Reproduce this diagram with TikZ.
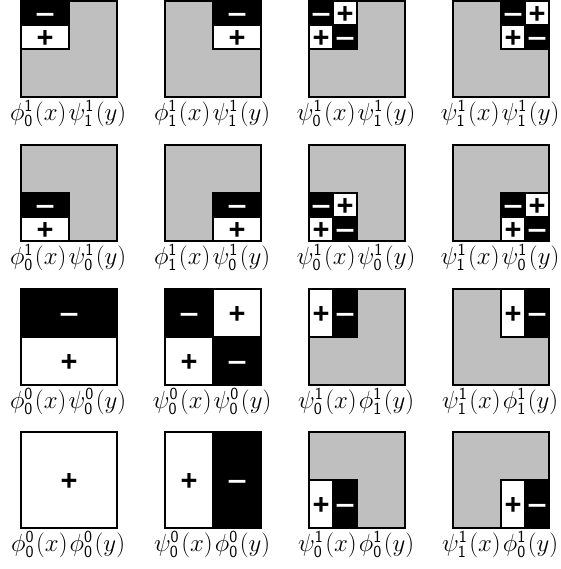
\documentclass[tikz,border=0pt]{standalone}
\usepackage{fontspec}
\usepackage{tikz}
\usetikzlibrary{calc}
\newfontfamily\signfont{Liberation Sans}
\DeclareMathSizes{24}{24}{17}{12}
\tikzset{
  zeroarea/.style={fill=black!25,draw=black,line width=1.2pt},
  posarea/.style={fill=white,draw=black,line width=1.2pt},
  negarea/.style={fill=black,draw=black,line width=1.2pt},
  possign/.style={font=\signfont\bfseries\fontsize{29}{29}\selectfont,text=black,
    inner sep=0pt,anchor=base,yshift=-10.2pt},
  negsign/.style={font=\signfont\bfseries\fontsize{29}{29}\selectfont,text=white,
    inner sep=0pt,anchor=base,yshift=-10.2pt},
  basisframe/.style={draw=black,line width=2.2pt},
  basislabel/.style={font=\fontsize{24}{28}\selectfont,inner sep=0pt}
}
\newcounter{signno}
% one cell of a basis function: corners, then sign
\newcommand{\poscell}[4]{%
  \draw[posarea] (#1,#2) rectangle (#3,#4);
  \stepcounter{signno}%
  \node[possign] (sign\arabic{signno}) at ($(#1,#2)!0.5!(#3,#4)$) {+};}
\newcommand{\negcell}[4]{%
  \draw[negarea] (#1,#2) rectangle (#3,#4);
  \stepcounter{signno}%
  \node[negsign] (sign\arabic{signno}) at ($(#1,#2)!0.5!(#3,#4)$) {\scalebox{1.15}[0.9]{−}};}
% basis function with level and shift
\newcommand{\bfn}[3]{\mkern1.5mu#1^{\mathsf{#2}}_{\mathsf{#3}}\mkern1.5mu}

\begin{document}
\begin{tikzpicture}[x=1pt,y=-1pt]
  \useasboundingbox (0,0) rectangle (560,569);

  % row 1
  \begin{scope}[shift={(21,97)},x=96pt,y=96pt]
    \fill[black!25] (0,0) rectangle (1,1);
    \poscell{0}{0.5}{0.5}{0.75} \negcell{0}{0.75}{0.5}{1}
    \draw[basisframe] (0,0) rectangle (1,1);
    \node[basislabel] (lab11) at (0.48,-0.17) {$\bfn{\phi}{1}{0}(x)\bfn{\psi}{1}{1}(y)$};
  \end{scope}
  \begin{scope}[shift={(165,97)},x=96pt,y=96pt]
    \fill[black!25] (0,0) rectangle (1,1);
    \poscell{0.5}{0.5}{1}{0.75} \negcell{0.5}{0.75}{1}{1}
    \draw[basisframe] (0,0) rectangle (1,1);
    \node[basislabel] (lab12) at (0.48,-0.17) {$\bfn{\phi}{1}{1}(x)\bfn{\psi}{1}{1}(y)$};
  \end{scope}
  \begin{scope}[shift={(309,97)},x=96pt,y=96pt]
    \fill[black!25] (0,0) rectangle (1,1);
    \poscell{0}{0.5}{0.25}{0.75} \negcell{0.25}{0.5}{0.5}{0.75}
    \negcell{0}{0.75}{0.25}{1} \poscell{0.25}{0.75}{0.5}{1}
    \draw[basisframe] (0,0) rectangle (1,1);
    \node[basislabel] (lab13) at (0.48,-0.17) {$\bfn{\psi}{1}{0}(x)\bfn{\psi}{1}{1}(y)$};
  \end{scope}
  \begin{scope}[shift={(453,97)},x=96pt,y=96pt]
    \fill[black!25] (0,0) rectangle (1,1);
    \poscell{0.5}{0.5}{0.75}{0.75} \negcell{0.75}{0.5}{1}{0.75}
    \negcell{0.5}{0.75}{0.75}{1} \poscell{0.75}{0.75}{1}{1}
    \draw[basisframe] (0,0) rectangle (1,1);
    \node[basislabel] (lab14) at (0.48,-0.17) {$\bfn{\psi}{1}{1}(x)\bfn{\psi}{1}{1}(y)$};
  \end{scope}

  % row 2
  \begin{scope}[shift={(21,241)},x=96pt,y=96pt]
    \fill[black!25] (0,0) rectangle (1,1);
    \poscell{0}{0}{0.5}{0.25} \negcell{0}{0.25}{0.5}{0.5}
    \draw[basisframe] (0,0) rectangle (1,1);
    \node[basislabel] (lab21) at (0.48,-0.17) {$\bfn{\phi}{1}{0}(x)\bfn{\psi}{1}{0}(y)$};
  \end{scope}
  \begin{scope}[shift={(165,241)},x=96pt,y=96pt]
    \fill[black!25] (0,0) rectangle (1,1);
    \poscell{0.5}{0}{1}{0.25} \negcell{0.5}{0.25}{1}{0.5}
    \draw[basisframe] (0,0) rectangle (1,1);
    \node[basislabel] (lab22) at (0.48,-0.17) {$\bfn{\phi}{1}{1}(x)\bfn{\psi}{1}{0}(y)$};
  \end{scope}
  \begin{scope}[shift={(309,241)},x=96pt,y=96pt]
    \fill[black!25] (0,0) rectangle (1,1);
    \poscell{0}{0}{0.25}{0.25} \negcell{0.25}{0}{0.5}{0.25}
    \negcell{0}{0.25}{0.25}{0.5} \poscell{0.25}{0.25}{0.5}{0.5}
    \draw[basisframe] (0,0) rectangle (1,1);
    \node[basislabel] (lab23) at (0.48,-0.17) {$\bfn{\psi}{1}{0}(x)\bfn{\psi}{1}{0}(y)$};
  \end{scope}
  \begin{scope}[shift={(453,241)},x=96pt,y=96pt]
    \fill[black!25] (0,0) rectangle (1,1);
    \poscell{0.5}{0}{0.75}{0.25} \negcell{0.75}{0}{1}{0.25}
    \negcell{0.5}{0.25}{0.75}{0.5} \poscell{0.75}{0.25}{1}{0.5}
    \draw[basisframe] (0,0) rectangle (1,1);
    \node[basislabel] (lab24) at (0.48,-0.17) {$\bfn{\psi}{1}{1}(x)\bfn{\psi}{1}{0}(y)$};
  \end{scope}

  % row 3
  \begin{scope}[shift={(21,385)},x=96pt,y=96pt]
    \poscell{0}{0}{1}{0.5} \negcell{0}{0.5}{1}{1}
    \draw[basisframe] (0,0) rectangle (1,1);
    \node[basislabel] (lab31) at (0.48,-0.17) {$\bfn{\phi}{0}{0}(x)\bfn{\psi}{0}{0}(y)$};
  \end{scope}
  \begin{scope}[shift={(165,385)},x=96pt,y=96pt]
    \poscell{0}{0}{0.5}{0.5} \negcell{0.5}{0}{1}{0.5}
    \negcell{0}{0.5}{0.5}{1} \poscell{0.5}{0.5}{1}{1}
    \draw[basisframe] (0,0) rectangle (1,1);
    \node[basislabel] (lab32) at (0.48,-0.17) {$\bfn{\psi}{0}{0}(x)\bfn{\psi}{0}{0}(y)$};
  \end{scope}
  \begin{scope}[shift={(309,385)},x=96pt,y=96pt]
    \fill[black!25] (0,0) rectangle (1,1);
    \poscell{0}{0.5}{0.25}{1} \negcell{0.25}{0.5}{0.5}{1}
    \draw[basisframe] (0,0) rectangle (1,1);
    \node[basislabel] (lab33) at (0.48,-0.17) {$\bfn{\psi}{1}{0}(x)\bfn{\phi}{1}{1}(y)$};
  \end{scope}
  \begin{scope}[shift={(453,385)},x=96pt,y=96pt]
    \fill[black!25] (0,0) rectangle (1,1);
    \poscell{0.5}{0.5}{0.75}{1} \negcell{0.75}{0.5}{1}{1}
    \draw[basisframe] (0,0) rectangle (1,1);
    \node[basislabel] (lab34) at (0.48,-0.17) {$\bfn{\psi}{1}{1}(x)\bfn{\phi}{1}{1}(y)$};
  \end{scope}

  % row 4
  \begin{scope}[shift={(21,528)},x=96pt,y=96pt]
    \poscell{0}{0}{1}{1}
    \draw[basisframe] (0,0) rectangle (1,1);
    \node[basislabel] (lab41) at (0.48,-0.17) {$\bfn{\phi}{0}{0}(x)\bfn{\phi}{0}{0}(y)$};
  \end{scope}
  \begin{scope}[shift={(165,528)},x=96pt,y=96pt]
    \poscell{0}{0}{0.5}{1} \negcell{0.5}{0}{1}{1}
    \draw[basisframe] (0,0) rectangle (1,1);
    \node[basislabel] (lab42) at (0.48,-0.17) {$\bfn{\psi}{0}{0}(x)\bfn{\phi}{0}{0}(y)$};
  \end{scope}
  \begin{scope}[shift={(309,528)},x=96pt,y=96pt]
    \fill[black!25] (0,0) rectangle (1,1);
    \poscell{0}{0}{0.25}{0.5} \negcell{0.25}{0}{0.5}{0.5}
    \draw[basisframe] (0,0) rectangle (1,1);
    \node[basislabel] (lab43) at (0.48,-0.17) {$\bfn{\psi}{1}{0}(x)\bfn{\phi}{1}{0}(y)$};
  \end{scope}
  \begin{scope}[shift={(453,528)},x=96pt,y=96pt]
    \fill[black!25] (0,0) rectangle (1,1);
    \poscell{0.5}{0}{0.75}{0.5} \negcell{0.75}{0}{1}{0.5}
    \draw[basisframe] (0,0) rectangle (1,1);
    \node[basislabel] (lab44) at (0.48,-0.17) {$\bfn{\psi}{1}{1}(x)\bfn{\phi}{1}{0}(y)$};
  \end{scope}
\end{tikzpicture}
\end{document}
